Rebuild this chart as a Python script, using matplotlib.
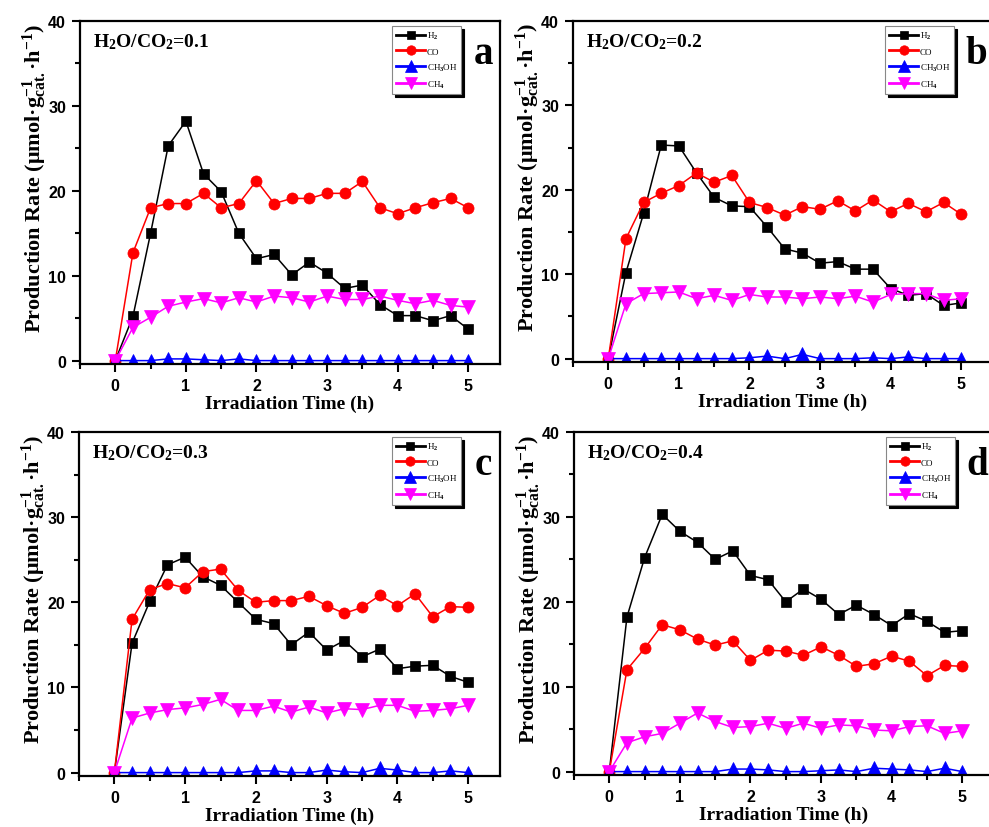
import matplotlib
matplotlib.use("Agg")
import matplotlib.pyplot as plt
import numpy as np
from matplotlib.ticker import MultipleLocator

plt.rcParams["font.family"] = ["Liberation Serif", "DejaVu Serif"]
plt.rcParams["mathtext.fontset"] = "custom"
plt.rcParams["mathtext.rm"] = "Liberation Serif:bold"
plt.rcParams["mathtext.it"] = "Liberation Serif:bold"
plt.rcParams["mathtext.bf"] = "Liberation Serif:bold"

time_h = np.arange(0, 5.01, 0.25)

# panel a, H2O/CO2 = 0.1
h2_a = [0, 5.2, 15.0, 25.3, 28.2, 22.0, 19.9, 15.0, 12.0, 12.5, 10.1, 11.6, 10.3, 8.5, 8.9, 6.6, 5.3, 5.3, 4.7, 5.3, 3.7]
co_a = [0, 12.7, 18.0, 18.5, 18.5, 19.7, 18.0, 18.5, 21.2, 18.5, 19.1, 19.1, 19.7, 19.7, 21.1, 18.0, 17.3, 18.0, 18.6, 19.1, 18.0]
ch3oh_a = [0, 0, 0, 0.2, 0.2, 0.1, 0, 0.2, 0, 0, 0, 0, 0, 0, 0, 0, 0, 0, 0, 0, 0]
ch4_a = [0, 3.9, 5.1, 6.4, 6.9, 7.3, 6.8, 7.4, 6.9, 7.6, 7.4, 6.9, 7.6, 7.2, 7.2, 7.6, 7.1, 6.7, 7.1, 6.5, 6.3]

# panel b, H2O/CO2 = 0.2
h2_b = [0, 10.2, 17.2, 25.3, 25.2, 22.0, 19.1, 18.1, 18.0, 15.6, 13.0, 12.5, 11.3, 11.5, 10.6, 10.6, 8.3, 7.5, 7.7, 6.3, 6.6]
co_b = [0, 14.2, 18.5, 19.6, 20.5, 22.0, 20.9, 21.7, 18.5, 17.9, 17.0, 18.0, 17.7, 18.7, 17.5, 18.8, 17.4, 18.4, 17.4, 18.5, 17.1]
ch3oh_b = [0, 0, 0, 0, 0, 0, 0, 0, 0.1, 0.3, 0, 0.5, 0, 0, 0, 0.1, 0, 0.2, 0, 0, 0]
ch4_b = [0, 6.5, 7.7, 7.8, 7.9, 7.1, 7.5, 6.9, 7.6, 7.3, 7.3, 7.1, 7.3, 7.1, 7.4, 6.7, 7.6, 7.7, 7.7, 6.9, 7.1]

# panel c, H2O/CO2 = 0.3
h2_c = [0, 15.2, 20.1, 24.4, 25.3, 23.0, 22.0, 20.0, 18.0, 17.5, 15.0, 16.5, 14.4, 15.5, 13.6, 14.5, 12.2, 12.5, 12.6, 11.3, 10.6]
co_c = [0, 18.0, 21.5, 22.2, 21.7, 23.6, 23.9, 21.4, 20.0, 20.2, 20.2, 20.7, 19.6, 18.7, 19.4, 20.8, 19.6, 21.0, 18.3, 19.5, 19.4]
ch3oh_c = [0, 0, 0, 0, 0, 0, 0, 0, 0.2, 0.2, 0, 0, 0.3, 0.1, 0, 0.5, 0.3, 0, 0, 0.2, 0]
ch4_c = [0, 6.4, 7.0, 7.4, 7.6, 8.0, 8.6, 7.3, 7.3, 7.8, 7.1, 7.7, 7.0, 7.5, 7.4, 7.9, 7.9, 7.2, 7.3, 7.5, 7.9]

# panel d, H2O/CO2 = 0.4
h2_d = [0, 18.2, 25.2, 30.3, 28.3, 27.0, 25.0, 26.0, 23.1, 22.6, 20.0, 21.5, 20.3, 18.5, 19.6, 18.5, 17.2, 18.6, 17.7, 16.4, 16.6]
co_d = [0, 12.0, 14.5, 17.3, 16.7, 15.6, 14.9, 15.4, 13.1, 14.3, 14.2, 13.7, 14.7, 13.7, 12.4, 12.7, 13.6, 13.0, 11.3, 12.5, 12.4]
ch3oh_d = [0, 0, 0, 0, 0, 0, 0, 0.3, 0.3, 0.2, 0, 0, 0.1, 0.2, 0, 0.4, 0.3, 0.2, 0, 0.4, 0]
ch4_d = [0, 3.4, 4.1, 4.5, 5.7, 6.9, 5.9, 5.2, 5.3, 5.7, 5.1, 5.7, 5.1, 5.5, 5.4, 4.9, 4.8, 5.3, 5.4, 4.5, 4.8]

ratios = ["0.1", "0.2", "0.3", "0.4"]
letters = ["a", "b", "c", "d"]
panels = [
    (h2_a, co_a, ch3oh_a, ch4_a),
    (h2_b, co_b, ch3oh_b, ch4_b),
    (h2_c, co_c, ch3oh_c, ch4_c),
    (h2_d, co_d, ch3oh_d, ch4_d),
]

series_style = [
    ("H$_2$", "black", "s", 7.5),
    ("CO", "red", "o", 8),
    ("CH$_3$OH", "blue", "^", 10),
    ("CH$_4$", "magenta", "v", 10),
]

W, H = 989, 828
# axes boxes in pixels: left, top, width, height
boxes = [(80, 22, 420, 343), (573, 22, 420, 341), (79, 433, 421, 344), (574, 433, 420, 343)]

fig = plt.figure(figsize=(W / 100, H / 100), dpi=100)

for box, data, ratio, letter in zip(boxes, panels, ratios, letters):
    l, t, w, h = box
    ax = fig.add_axes([l / W, 1 - (t + h) / H, w / W, h / H])
    for (label, color, marker, ms), values in zip(series_style, data):
        ax.plot(time_h, values, color=color, marker=marker, markersize=ms,
                linewidth=1.1, label=label, markeredgewidth=0.5,
                markeredgecolor=color)

    ax.set_xlim(-0.5, 5.45)
    ax.set_ylim(-0.4, 40)
    ax.xaxis.set_major_locator(MultipleLocator(1))
    ax.xaxis.set_minor_locator(MultipleLocator(0.5))
    ax.yaxis.set_major_locator(MultipleLocator(10))
    ax.yaxis.set_minor_locator(MultipleLocator(5))
    ax.tick_params(which="both", direction="out", width=1.5, top=False, right=False)
    ax.tick_params(which="major", length=6, pad=4)
    ax.tick_params(which="minor", length=3.5)
    for tl in ax.get_xticklabels() + ax.get_yticklabels():
        tl.set_fontfamily("Liberation Sans")
        tl.set_fontweight("bold")
        tl.set_fontsize(11.5)
    for sp in ax.spines.values():
        sp.set_linewidth(1.6)

    ax.set_xlabel("Irradiation Time (h)", fontsize=14, fontweight="bold")
    ax.set_ylabel("Production Rate (μmol·g$_{\\mathrm{cat.}}^{\\mathrm{-1}}$·h$^{\\mathrm{-1}}$)",
                  fontsize=16, fontweight="bold")
    ax.xaxis.set_label_coords(0.5, -0.09)
    ax.yaxis.set_label_coords(-0.074, 0.545)

    ax.text(0.03, 0.94, "H$_2$O/CO$_2$=" + ratio, transform=ax.transAxes,
            fontsize=14, fontweight="bold", va="center", ha="left")
    ax.text(0.96, 0.905, letter, transform=ax.transAxes, fontsize=28,
            fontweight="bold", va="center", ha="center")

    leg = ax.legend(loc="upper left", bbox_to_anchor=(0.743, 0.985),
                    borderaxespad=0, fontsize=6.5, handlelength=3.2,
                    handletextpad=0.2, labelspacing=0.65, borderpad=0.45,
                    markerscale=0.85, fancybox=False, framealpha=1,
                    edgecolor="#888888",
                    shadow={"color": "black", "alpha": 1})
    leg.get_frame().set_linewidth(0.8)
    for ln in leg.get_lines():
        ln.set_linewidth(2)

fig.savefig("out.png", dpi=100)
